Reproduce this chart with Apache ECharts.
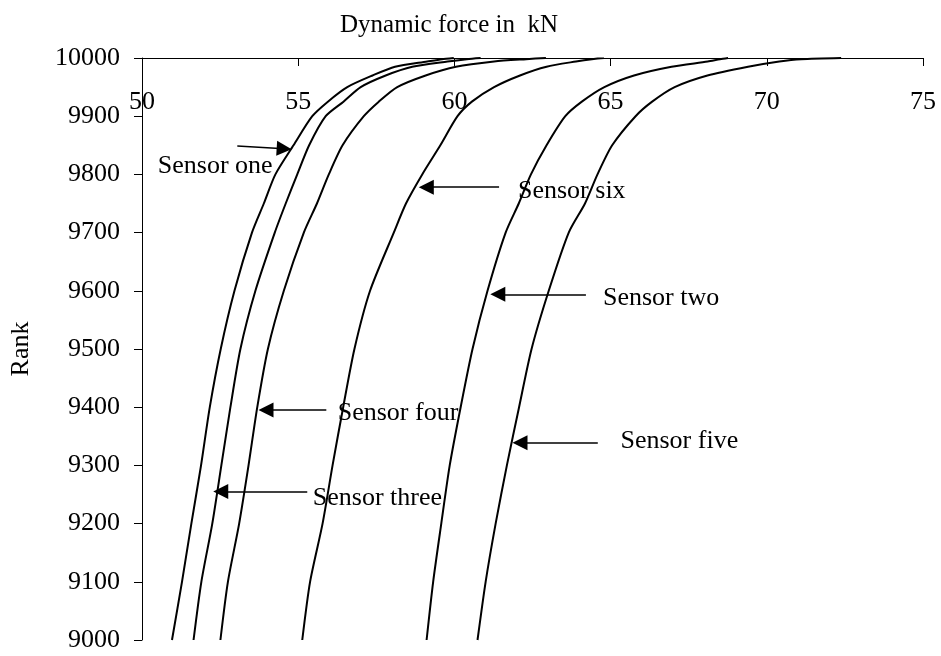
<!DOCTYPE html>
<html>
<head>
<meta charset="utf-8">
<script src="https://cdn.jsdelivr.net/npm/echarts@6/dist/echarts.min.js"></script>
<style>
  html, body { margin: 0; padding: 0; background: #fff; }
  #chart { width: 941px; height: 656px; }
</style>
</head>
<body>
<div id="chart"></div>
<script>
// rank levels
const ranks = [9000, 9100, 9200, 9300, 9400, 9500, 9600, 9700, 9750, 9800, 9850, 9900, 9925, 9950, 9970, 9985, 9994, 9998, 10000]

// dynamic force (kN) at each rank, one list per sensor
const sensorOne = [50.96, 51.28, 51.58, 51.89, 52.17, 52.52, 52.96, 53.52, 53.90, 54.27, 54.85, 55.45, 55.95, 56.57, 57.38, 58.10, 59.13, 59.60, 59.98]
const sensorThree = [51.65, 51.90, 52.25, 52.54, 52.83, 53.15, 53.63, 54.25, 54.60, 54.97, 55.35, 55.88, 56.45, 57.00, 57.80, 58.65, 59.78, 60.40, 60.84]
const sensorFour = [52.51, 52.75, 53.11, 53.41, 53.69, 54.03, 54.54, 55.18, 55.60, 55.98, 56.42, 57.10, 57.58, 58.17, 59.08, 60.05, 61.27, 62.30, 62.93]
const sensorSix = [55.13, 55.38, 55.78, 56.10, 56.44, 56.80, 57.30, 58.06, 58.45, 58.97, 59.55, 60.10, 60.56, 61.27, 62.10, 62.95, 63.89, 64.40, 64.79]
const sensorTwo = [59.11, 59.32, 59.58, 59.85, 60.20, 60.58, 61.06, 61.64, 62.06, 62.45, 62.95, 63.55, 64.08, 64.80, 65.75, 66.95, 68.11, 68.50, 68.76]
const sensorFive = [60.74, 61.00, 61.32, 61.68, 62.07, 62.47, 63.02, 63.66, 64.18, 64.58, 65.05, 65.80, 66.33, 67.05, 68.10, 69.40, 70.40, 71.10, 72.38]

// annotation: arrow tail [force, rank], arrow head centre [force, rank], label anchor [force, rank]
const notes = {
  'Sensor one': { tail: [53.05, 9849], tip: [54.55, 9844], text: [50.49, 9814] },
  'Sensor three': { tail: [55.29, 9255], tip: [52.52, 9255], text: [55.45, 9244] },
  'Sensor four': { tail: [55.90, 9395], tip: [53.97, 9395], text: [56.25, 9390] },
  'Sensor six': { tail: [61.43, 9778], tip: [59.10, 9778], text: [62.02, 9772] },
  'Sensor two': { tail: [64.21, 9594], tip: [61.39, 9594], text: [64.74, 9588] },
  'Sensor five': { tail: [64.59, 9339], tip: [62.10, 9339], text: [65.30, 9342] }
}

const font = 'Liberation Serif'

const makeSeries = (name, values) => {
  const n = notes[name]
  return {
    name: name,
    type: 'line',
    smooth: 0.25,
    showSymbol: false,
    lineStyle: { color: '#000', width: 2 },
    data: values.map((v, i) => [v, ranks[i]]),
    markLine: {
      silent: true,
      symbol: ['none', 'triangle'],
      symbolSize: 15,
      label: { show: false },
      itemStyle: { color: '#000' },
      lineStyle: { color: '#000', width: 1.5, type: 'solid' },
      data: [[{ coord: n.tail }, { coord: n.tip }]]
    },
    markPoint: {
      silent: true,
      symbol: 'circle',
      symbolSize: 1,
      itemStyle: { color: 'rgba(0,0,0,0)' },
      label: {
        show: true,
        position: 'right',
        distance: 0,
        formatter: name,
        color: '#000',
        fontSize: 26,
        fontFamily: font
      },
      data: [{ coord: n.text }]
    }
  }
}

const dom = echarts.init(document.getElementById('chart'))
const option = {
  animation: false,
  backgroundColor: '#fff',
  title: {
    text: 'Dynamic force in  kN',
    left: 335,
    top: 8,
    textStyle: { fontFamily: font, fontSize: 25, fontWeight: 'normal', color: '#000' }
  },
  grid: { left: 142, right: 18, top: 58, bottom: 16 },
  xAxis: {
    type: 'value',
    position: 'top',
    min: 50,
    max: 75,
    interval: 5,
    axisLine: { lineStyle: { color: '#000', width: 1 } },
    axisTick: { inside: true, length: 8, lineStyle: { color: '#000' } },
    axisLabel: { inside: true, margin: 31, color: '#000', fontSize: 26, fontFamily: font },
    splitLine: { show: false }
  },
  yAxis: {
    type: 'value',
    min: 9000,
    max: 10000,
    interval: 100,
    name: 'Rank',
    nameLocation: 'middle',
    nameGap: 108,
    nameRotate: 90,
    nameTextStyle: { color: '#000', fontSize: 26, fontFamily: font },
    axisLine: { show: true, lineStyle: { color: '#000', width: 1 } },
    axisTick: { show: true, length: 8, lineStyle: { color: '#000' } },
    axisLabel: { margin: 22, color: '#000', fontSize: 26, fontFamily: font, formatter: (v) => String(v) },
    splitLine: { show: false }
  },
  series: [
    makeSeries('Sensor one', sensorOne),
    makeSeries('Sensor three', sensorThree),
    makeSeries('Sensor four', sensorFour),
    makeSeries('Sensor six', sensorSix),
    makeSeries('Sensor two', sensorTwo),
    makeSeries('Sensor five', sensorFive)
  ]
}
dom.setOption(option)
</script>
</body>
</html>
